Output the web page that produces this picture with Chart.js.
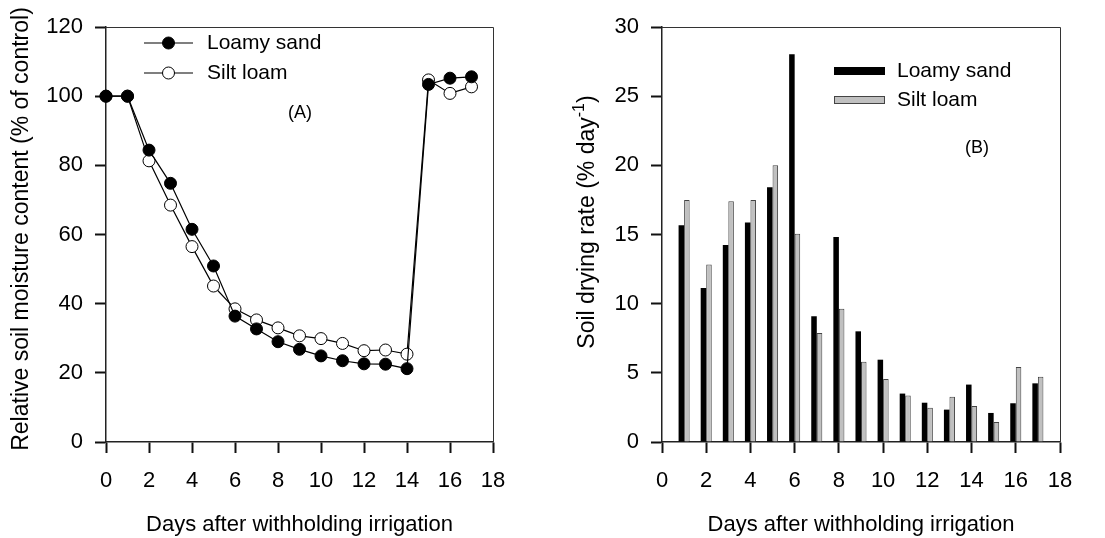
<!DOCTYPE html>
<html>
<head>
    <meta charset="UTF-8">
    <script src="https://cdn.jsdelivr.net/npm/chart.js"></script>
    <style>
        body { margin: 0; background: #fff; }
        .panel { position: absolute; top: 0; height: 538px; }
        #leftPanel { left: 0; width: 552px; }
        #rightPanel { left: 552px; width: 553px; }
    </style>
</head>
<body>
    <div class="panel" id="leftPanel"><canvas id="moistureChart" width="552" height="538"></canvas></div>
    <div class="panel" id="rightPanel"><canvas id="dryingChart" width="553" height="538"></canvas></div>

    <script>
        // Panel A: relative soil moisture content (% of control)
        const moistureDays = [0, 1, 2, 3, 4, 5, 6, 7, 8, 9, 10, 11, 12, 13, 14, 15, 16, 17];
        const loamyMoisture = [100, 100, 84.4, 74.8, 61.5, 50.9, 36.4, 32.7, 29.0, 26.8, 24.9, 23.5, 22.6, 22.5, 21.2, 103.4, 105.2, 105.6];
        const siltMoisture = [100, 100, 81.3, 68.5, 56.5, 45.1, 38.5, 35.3, 33.0, 30.7, 29.9, 28.5, 26.4, 26.6, 25.4, 104.7, 100.8, 102.7];

        // Panel B: soil drying rate (% day-1)
        const rateDays = [1, 2, 3, 4, 5, 6, 7, 8, 9, 10, 11, 12, 13, 14, 15, 16, 17];
        const loamyRate = [15.67, 11.13, 14.24, 15.86, 18.41, 28.03, 9.09, 14.82, 8.0, 5.95, 3.5, 2.84, 2.34, 4.15, 2.1, 2.8, 4.24];
        const siltRate = [17.5, 12.84, 17.4, 17.5, 20.0, 15.06, 7.88, 9.64, 5.81, 4.55, 3.37, 2.48, 3.28, 2.6, 1.45, 5.42, 4.72];

        const seriesNames = ['Loamy sand', 'Silt loam'];
        const xTitle = 'Days after withholding irrigation';

        const FONT = "'Liberation Sans', Arial, sans-serif";
        Chart.defaults.font.family = FONT;
        Chart.defaults.color = '#000';

        function toPoints(xs, ys) {
            return xs.map((x, i) => ({ x: x, y: ys[i] }));
        }

        // draws the top and right edges of the plot frame
        const framePlugin = {
            id: 'frame',
            beforeDatasetsDraw(chart) {
                const { ctx, chartArea: a } = chart;
                ctx.save();
                ctx.strokeStyle = '#333';
                ctx.lineWidth = 1;
                ctx.beginPath();
                ctx.moveTo(a.left, a.top + 0.5);
                ctx.lineTo(a.right + 0.5, a.top + 0.5);
                ctx.lineTo(a.right + 0.5, a.bottom);
                ctx.stroke();
                ctx.restore();
            }
        };

        // rotated y title, with an optional superscript part
        const yTitlePlugin = {
            id: 'yTitle',
            afterDraw(chart, args, o) {
                const ctx = chart.ctx;
                const big = o.size + 'px ' + FONT;
                const small = Math.round(o.size * 0.7) + 'px ' + FONT;
                ctx.save();
                ctx.translate(o.x, o.y);
                ctx.rotate(-Math.PI / 2);
                ctx.fillStyle = '#000';
                ctx.textBaseline = 'middle';
                ctx.textAlign = 'left';
                ctx.font = big;
                const w1 = ctx.measureText(o.text).width;
                const w3 = o.after ? ctx.measureText(o.after).width : 0;
                ctx.font = small;
                const w2 = o.sup ? ctx.measureText(o.sup).width : 0;
                let x = -(w1 + w2 + w3) / 2;
                ctx.font = big;
                ctx.fillText(o.text, x, 0);
                x += w1;
                if (o.sup) {
                    ctx.font = small;
                    ctx.fillText(o.sup, x, -o.size * 0.38);
                    x += w2;
                }
                if (o.after) {
                    ctx.font = big;
                    ctx.fillText(o.after, x, 0);
                }
                ctx.restore();
            }
        };

        // legend in the plot area plus the panel tag
        const panelLegend = {
            id: 'panelLegend',
            afterDatasetsDraw(chart, args, o) {
                const ctx = chart.ctx;
                ctx.save();
                chart.data.datasets.forEach((ds, i) => {
                    const y = o.y + i * o.gap;
                    if (o.kind === 'line') {
                        ctx.strokeStyle = ds.borderColor;
                        ctx.lineWidth = ds.borderWidth;
                        ctx.beginPath();
                        ctx.moveTo(o.x, y);
                        ctx.lineTo(o.x + o.w, y);
                        ctx.stroke();
                        ctx.beginPath();
                        ctx.arc(o.x + o.w / 2, y, ds.pointRadius, 0, Math.PI * 2);
                        ctx.fillStyle = ds.pointBackgroundColor;
                        ctx.fill();
                        ctx.lineWidth = ds.pointBorderWidth;
                        ctx.strokeStyle = ds.pointBorderColor;
                        ctx.stroke();
                    } else {
                        ctx.fillStyle = ds.backgroundColor;
                        ctx.fillRect(o.x, y - o.h / 2, o.w, o.h);
                        if (ds.borderWidth) {
                            ctx.strokeStyle = ds.borderColor;
                            ctx.lineWidth = ds.borderWidth;
                            ctx.strokeRect(o.x + 0.5, y - o.h / 2 + 0.5, o.w - 1, o.h - 1);
                        }
                    }
                    ctx.fillStyle = '#000';
                    ctx.font = '21px ' + FONT;
                    ctx.textBaseline = 'middle';
                    ctx.textAlign = 'left';
                    ctx.fillText(ds.label, o.x + o.w + o.pad, y);
                });
                ctx.font = '18px ' + FONT;
                ctx.textAlign = 'center';
                ctx.textBaseline = 'middle';
                ctx.fillText(o.tag, o.tagX, o.tagY);
                ctx.restore();
            }
        };

        function axisX() {
            return {
                type: 'linear',
                min: 0,
                max: 18,
                offset: false,
                grid: { drawOnChartArea: false, offset: false, tickLength: 11, tickColor: '#111', tickWidth: 2 },
                border: { color: '#222', width: 1.5 },
                ticks: { stepSize: 2, font: { size: 22 }, padding: 15, maxRotation: 0 },
                title: { display: true, text: xTitle, font: { size: 22 }, padding: { top: 0, bottom: 0 } },
                afterFit(scale) { scale.height = 96; }
            };
        }

        function axisY(max, step, width) {
            return {
                min: 0,
                max: max,
                grid: { drawOnChartArea: false, tickLength: 11, tickColor: '#111', tickWidth: 2 },
                border: { color: '#222', width: 1.5 },
                ticks: { stepSize: step, font: { size: 22 }, padding: 12 },
                afterFit(scale) { scale.width = width; }
            };
        }

        document.addEventListener('DOMContentLoaded', function() {
            // Panel A
            new Chart(document.getElementById('moistureChart'), {
                type: 'line',
                data: {
                    datasets: [{
                        label: seriesNames[0],
                        data: toPoints(moistureDays, loamyMoisture),
                        borderColor: '#000',
                        borderWidth: 1.2,
                        pointRadius: 6,
                        pointBackgroundColor: '#000',
                        pointBorderColor: '#000',
                        pointBorderWidth: 1,
                        tension: 0,
                        clip: false
                    }, {
                        label: seriesNames[1],
                        data: toPoints(moistureDays, siltMoisture),
                        borderColor: '#000',
                        borderWidth: 1.2,
                        pointRadius: 6,
                        pointBackgroundColor: '#fff',
                        pointBorderColor: '#000',
                        pointBorderWidth: 1,
                        tension: 0,
                        clip: false
                    }]
                },
                options: {
                    responsive: false,
                    animation: false,
                    layout: { padding: { top: 27, right: 59, left: 0, bottom: 0 } },
                    plugins: {
                        legend: { display: false },
                        tooltip: { enabled: false },
                        panelLegend: { kind: 'line', x: 144, y: 43, gap: 30, w: 49, pad: 14, tag: '(A)', tagX: 300, tagY: 113 },
                        yTitle: { text: 'Relative soil moisture content (% of control)', x: 22, y: 229, size: 23 }
                    },
                    scales: {
                        x: axisX(),
                        y: axisY(120, 20, 106)
                    }
                },
                plugins: [framePlugin, panelLegend, yTitlePlugin]
            });

            // Panel B
            new Chart(document.getElementById('dryingChart'), {
                type: 'bar',
                data: {
                    datasets: [{
                        label: seriesNames[0],
                        data: toPoints(rateDays, loamyRate),
                        backgroundColor: '#000',
                        borderWidth: 0,
                        categoryPercentage: 0.5,
                        barPercentage: 1
                    }, {
                        label: seriesNames[1],
                        data: toPoints(rateDays, siltRate),
                        backgroundColor: '#c0c0c0',
                        borderColor: '#444',
                        borderWidth: 1,
                        categoryPercentage: 0.5,
                        barPercentage: 1
                    }]
                },
                options: {
                    responsive: false,
                    animation: false,
                    layout: { padding: { top: 27, right: 45, left: 0, bottom: 0 } },
                    plugins: {
                        legend: { display: false },
                        tooltip: { enabled: false },
                        panelLegend: { kind: 'bar', x: 282, y: 71, gap: 29, w: 51, h: 8, pad: 12, tag: '(B)', tagX: 425, tagY: 148 },
                        yTitle: { text: 'Soil drying rate (% day', sup: '-1', after: ')', x: 36, y: 222, size: 23 }
                    },
                    scales: {
                        x: axisX(),
                        y: axisY(30, 5, 110)
                    }
                },
                plugins: [framePlugin, panelLegend, yTitlePlugin]
            });
        });
    </script>
</body>
</html>
